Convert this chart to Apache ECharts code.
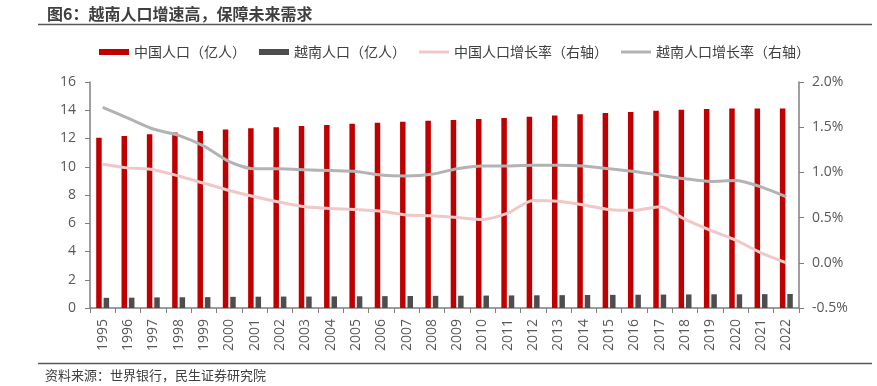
<!DOCTYPE html>
<html>
<head>
<meta charset="utf-8">
<script src="https://cdn.jsdelivr.net/npm/echarts@6/dist/echarts.min.js"></script>
<style>
html,body{margin:0;padding:0;background:#fff;}
#main{width:877px;height:386px;}
</style>
</head>
<body>
<div id="main"></div>
<script>
var years = ['1995','1996','1997','1998','1999','2000','2001','2002','2003','2004','2005','2006','2007','2008','2009','2010','2011','2012','2013','2014','2015','2016','2017','2018','2019','2020','2021','2022'];
var chinaPop = [12.05,12.17,12.30,12.42,12.53,12.63,12.72,12.80,12.88,12.96,13.04,13.11,13.18,13.25,13.31,13.38,13.45,13.54,13.63,13.72,13.80,13.88,13.96,14.03,14.08,14.12,14.13,14.12];
var vietPop = [0.72,0.73,0.75,0.76,0.77,0.79,0.80,0.81,0.81,0.82,0.83,0.84,0.85,0.86,0.87,0.88,0.89,0.90,0.91,0.92,0.93,0.94,0.95,0.96,0.97,0.97,0.98,0.99];
var chinaGrowth = [1.09,1.05,1.03,0.96,0.88,0.80,0.73,0.67,0.62,0.60,0.59,0.57,0.53,0.52,0.50,0.48,0.55,0.69,0.68,0.64,0.59,0.58,0.62,0.48,0.36,0.25,0.11,0.00];
var vietGrowth = [1.72,1.60,1.48,1.41,1.29,1.12,1.04,1.04,1.03,1.02,1.01,0.97,0.96,0.98,1.04,1.07,1.07,1.08,1.08,1.07,1.04,1.01,0.97,0.93,0.90,0.91,0.84,0.73];
var leftTicks = {min:0, max:16, interval:2};
var rightTicks = {min:-0.5, max:2.0, interval:0.5};

var FONT = '"Open Sans", "Noto Sans CJK SC", sans-serif';
var CJK = '"Noto Sans CJK SC", sans-serif';
var chart = echarts.init(document.getElementById('main'));
var linePath = 'path://M0,0L30,0L30,3L0,3Z';
chart.setOption({
  animation: false,
  backgroundColor: '#fff',
  textStyle: {fontFamily: FONT},
  graphic: [
    {type:'text', left: 47, top: 6, style:{text:'图6：越南人口增速高，保障未来需求', font:'bold 16px ' + CJK, fill:'#404040'}},
    {type:'line', shape:{x1:38, y1:24.5, x2:872, y2:24.5}, style:{stroke:'#595959', lineWidth:1.5}},
    {type:'line', shape:{x1:38, y1:363.5, x2:872, y2:363.5}, style:{stroke:'#595959', lineWidth:1.5}},
    {type:'text', left: 45, top: 369, style:{text:'资料来源：世界银行，民生证券研究院', font:'13px ' + CJK, fill:'#404040'}}
  ],
  legend: {
    left: 94, top: 40,
    itemWidth: 30, itemHeight: 6, itemGap: 13,
    textStyle: {fontSize: 14, color: '#404040', fontFamily: CJK},
    data: [
      {name:'中国人口（亿人）', icon:'rect'},
      {name:'越南人口（亿人）', icon:'rect'},
      {name:'中国人口增长率（右轴）', icon: linePath},
      {name:'越南人口增长率（右轴）', icon: linePath}
    ]
  },
  grid: {left: 90, right: 78, top: 82, bottom: 78},
  xAxis: {
    type: 'category',
    data: years,
    boundaryGap: true,
    axisLine: {lineStyle: {color: '#7f7f7f', width: 1.5}},
    axisTick: {show: true, length: 5, alignWithLabel: false, lineStyle: {color: '#7f7f7f'}},
    axisLabel: {rotate: 90, fontSize: 14, color: '#595959', margin: 11, interval: 0}
  },
  yAxis: [
    {
      type: 'value', min: leftTicks.min, max: leftTicks.max, interval: leftTicks.interval,
      splitLine: {show: false},
      axisLine: {show: true, lineStyle: {color: '#7f7f7f', width: 1.5}},
      axisTick: {show: true, length: 5, lineStyle: {color: '#7f7f7f'}},
      axisLabel: {fontSize: 14, color: '#595959', margin: 14}
    },
    {
      type: 'value', min: rightTicks.min, max: rightTicks.max, interval: rightTicks.interval,
      position: 'right',
      splitLine: {show: false},
      axisLine: {show: true, lineStyle: {color: '#7f7f7f', width: 1.5}},
      axisTick: {show: true, length: 5, lineStyle: {color: '#7f7f7f'}},
      axisLabel: {fontSize: 14, color: '#595959', margin: 13, formatter: function(v){return v.toFixed(1) + '%';}}
    }
  ],
  series: [
    {name:'中国人口（亿人）', type:'bar', data: chinaPop, barWidth: 5.5, barGap: '35%', itemStyle:{color:'#C00000'}},
    {name:'越南人口（亿人）', type:'bar', data: vietPop, barWidth: 5.5, barGap: '35%', itemStyle:{color:'#4D4D4F'}},
    {name:'中国人口增长率（右轴）', type:'line', yAxisIndex: 1, data: chinaGrowth, smooth: 0.25, symbol:'none',
      lineStyle:{color:'#F0C8C8', width:3}, itemStyle:{color:'#F0C8C8'}},
    {name:'越南人口增长率（右轴）', type:'line', yAxisIndex: 1, data: vietGrowth, smooth: 0.25, symbol:'none',
      lineStyle:{color:'#B3B3B3', width:3}, itemStyle:{color:'#B3B3B3'}}
  ]
});
</script>
</body>
</html>
